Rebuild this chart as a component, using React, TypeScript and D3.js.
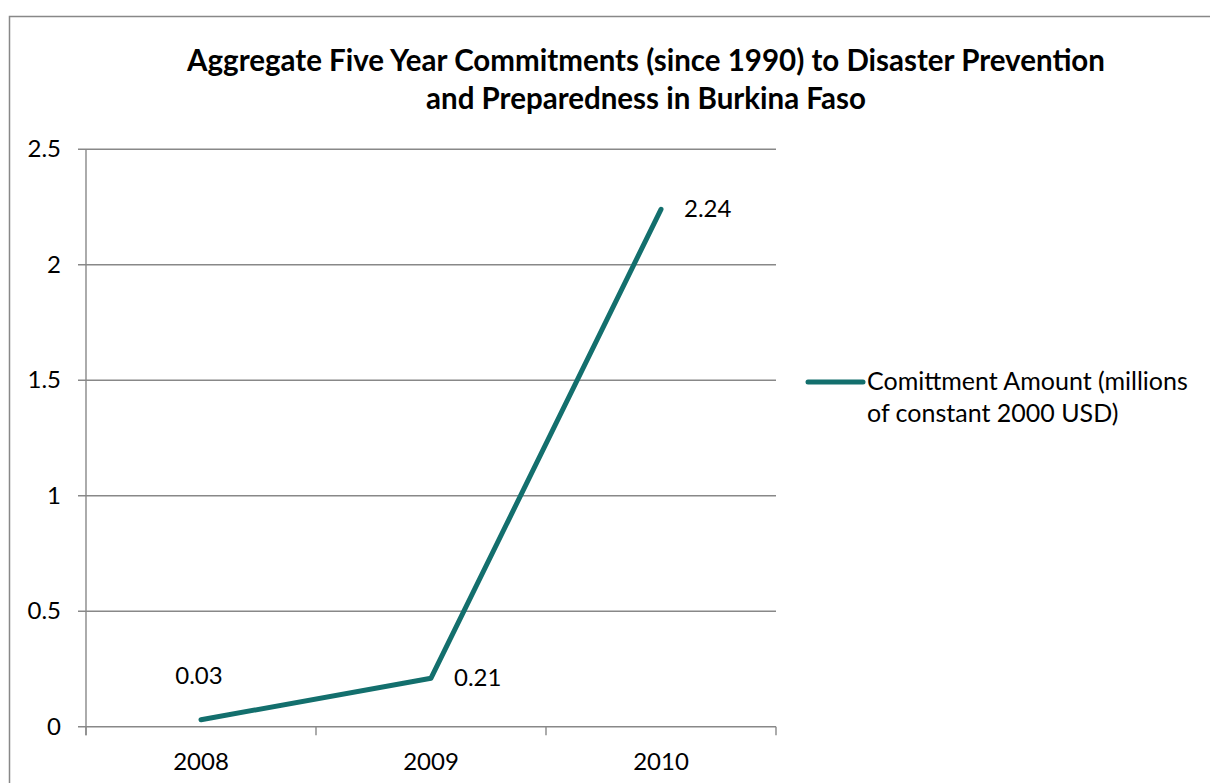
import React from "react";
import * as d3 from "d3";

const categories = ["2008", "2009", "2010"];
const values = [0.03, 0.21, 2.24];
const valueLabels = ["0.03", "0.21", "2.24"];
const labelPlacement = ["above", "right", "right"];
const yTicks = [0, 0.5, 1, 1.5, 2, 2.5];
const titleLines = [
  "Aggregate Five Year Commitments (since 1990) to Disaster Prevention",
  "and Preparedness in Burkina Faso",
];
const legendLines = ["Comittment Amount (millions", "of constant 2000 USD)"];

const W = 1210;
const H = 783;
const FONT = "Lato, 'Open Sans', sans-serif";
const LINE_COLOR = "#136f6d";
const GRID = "#888888";

export default function App() {
  const left = 86;
  const right = 776;
  const top = 149.3;
  const bottom = 726.7;

  const x = d3.scaleBand<string>().domain(categories).range([left, right]).padding(0);
  const y = d3.scaleLinear().domain([0, 2.5]).range([bottom, top]);
  const cx = (c: string) => (x(c) as number) + x.bandwidth() / 2;

  const pts: [number, number][] = categories.map((c, i) => [cx(c), y(values[i])]);
  const line = d3.line<[number, number]>().x((d) => d[0]).y((d) => d[1]);

  const boundaries = categories.map((c) => x(c) as number).concat([right]);

  return (
    <svg
      width={W}
      height={H}
      style={{ position: "absolute", left: 0, top: 0, background: "#fff" }}
      fontFamily={FONT}
    >
      <rect x={0} y={0} width={W} height={H} fill="#fff" />
      <rect x={9.5} y={16.5} width={1240} height={820} fill="none" stroke={GRID} strokeWidth={1.5} />

      {titleLines.map((t, i) => (
        <text
          key={i}
          x={646}
          y={71 + i * 38}
          textAnchor="middle"
          fontWeight="bold"
          fontSize={29.5}
          fill="#000"
        >
          {t}
        </text>
      ))}

      {yTicks.map((t) => (
        <g key={t}>
          <line x1={78} x2={right} y1={y(t)} y2={y(t)} stroke={GRID} strokeWidth={1.4} />
          <text x={61} y={y(t) + 8} textAnchor="end" fontSize={24} fill="#000">
            {d3.format("~g")(t)}
          </text>
        </g>
      ))}

      <line x1={left} x2={left} y1={top} y2={bottom + 8.5} stroke={GRID} strokeWidth={1.4} />
      {boundaries.map((b, i) => (
        <line key={i} x1={b} x2={b} y1={bottom} y2={bottom + 8.5} stroke={GRID} strokeWidth={1.4} />
      ))}

      {categories.map((c) => (
        <text key={c} x={cx(c)} y={770} textAnchor="middle" fontSize={24} fill="#000">
          {c}
        </text>
      ))}

      <path
        d={line(pts) || ""}
        fill="none"
        stroke={LINE_COLOR}
        strokeWidth={5}
        strokeLinecap="round"
        strokeLinejoin="round"
      />

      {pts.map((p, i) =>
        labelPlacement[i] === "above" ? (
          <text key={i} x={p[0] - 2} y={p[1] - 36} textAnchor="middle" fontSize={24} fill="#000">
            {valueLabels[i]}
          </text>
        ) : (
          <text key={i} x={p[0] + 23} y={p[1] + 8} textAnchor="start" fontSize={24} fill="#000">
            {valueLabels[i]}
          </text>
        )
      )}

      <line x1={808} x2={863} y1={382} y2={382} stroke={LINE_COLOR} strokeWidth={5} strokeLinecap="round" />
      {legendLines.map((t, i) => (
        <text key={i} x={867} y={390 + i * 32} fontSize={25} fill="#000">
          {t}
        </text>
      ))}
    </svg>
  );
}
